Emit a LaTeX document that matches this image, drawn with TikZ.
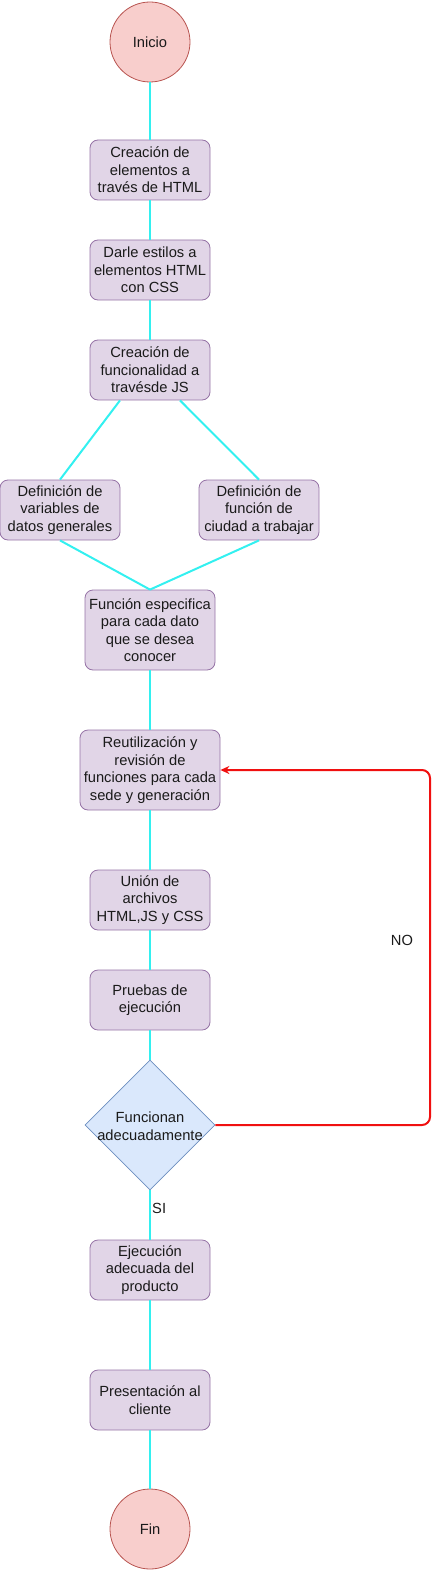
\documentclass[tikz,border=0pt]{standalone}
\usepackage{fontspec}
\setmainfont{Liberation Sans}
\usetikzlibrary{shapes.geometric,arrows.meta,calc}
\definecolor{pfill}{HTML}{E1D5E7}
\definecolor{pdraw}{HTML}{9673A6}
\definecolor{rfill}{HTML}{F8CECC}
\definecolor{rdraw}{HTML}{B85450}
\definecolor{bfill}{HTML}{DAE8FC}
\definecolor{bdraw}{HTML}{6C8EBF}
\definecolor{cyanline}{HTML}{33F0F0}
\definecolor{redline}{HTML}{F01010}
\definecolor{txt}{HTML}{1A1A1A}
\begin{document}
\begin{tikzpicture}[x=1pt,y=-1pt,
  every node/.style={font=\fontsize{14.7}{17.5}\selectfont, text=txt, align=center},
  procbox/.style={rectangle, rounded corners=8pt, draw=pdraw, fill=pfill, line width=0.8pt, inner sep=0pt, minimum width=120pt, minimum height=60pt},
  termcirc/.style={circle, draw=rdraw, fill=rfill, line width=0.8pt, inner sep=0pt, minimum size=80pt},
  decis/.style={diamond, draw=bdraw, fill=bfill, line width=0.8pt, inner sep=0pt, minimum width=130pt, minimum height=130pt},
  link/.style={draw=cyanline, line width=2pt},
  nolink/.style={draw=redline, line width=2pt, rounded corners=8pt, -{Stealth[length=9pt,width=8pt,inset=3pt]}},
  lbl/.style={font=\fontsize{14.7}{17.5}\selectfont, inner sep=0pt}
]
\useasboundingbox (0,0) rectangle (440,1570);

\node[termcirc] (inicio) at (150,42) {Inicio};
\node[procbox] (b1) at (150,170) {Creación de\\elementos a\\través de HTML};
\node[procbox] (b2) at (150,270) {Darle estilos a\\elementos HTML\\con CSS};
\node[procbox] (b3) at (150,370) {Creación de\\funcionalidad a\\travésde JS};
\node[procbox] (b4) at (60,510) {Definición de\\variables de\\datos generales};
\node[procbox] (b5) at (259,510) {Definición de\\función de\\ciudad a trabajar};
\node[procbox, minimum width=130pt, minimum height=80pt] (b6) at (150,630) {Función especifica\\para cada dato\\que se desea\\conocer};
\node[procbox, minimum width=140pt, minimum height=80pt] (b7) at (150,770) {Reutilización y\\revisión de\\funciones para cada\\sede y generación};
\node[procbox] (b8) at (150,900) {Unión de\\archivos\\HTML,JS y CSS};
\node[procbox] (b9) at (150,1000) {Pruebas de\\ejecución};
\node[decis] (dia) at (150,1125) {};
\node[inner sep=0pt] (diatext) at (150,1126) {Funcionan\\adecuadamente};
\node[procbox] (b10) at (150,1270) {Ejecución\\adecuada del\\producto};
\node[procbox] (b11) at (150,1400) {Presentación al\\cliente};
\node[termcirc] (fin) at (150,1529) {Fin};

\draw[link] (inicio.south) -- (b1.north);
\draw[link] (b1.south) -- (b2.north);
\draw[link] (b2.south) -- (b3.north);
\draw[link] ([xshift=-30pt]b3.south) -- (b4.north);
\draw[link] ([xshift=30pt]b3.south) -- (b5.north);
\draw[link] (b4.south) -- (b6.north);
\draw[link] (b5.south) -- (b6.north);
\draw[link] (b6.south) -- (b7.north);
\draw[link] (b7.south) -- (b8.north);
\draw[link] (b8.south) -- (b9.north);
\draw[link] (b9.south) -- (dia.north);
\draw[link] (dia.south) -- (b10.north);
\draw[link] (b10.south) -- (b11.north);
\draw[link] (b11.south) -- (fin.north);

\coordinate (rx) at (430,0);
\draw[nolink] (dia.east) -| (rx |- b7.east) -- (b7.east);

\node[lbl] (nolbl) at (402,940) {NO};
\node[lbl, anchor=west] (silbl) at (152,1208) {SI};
\end{tikzpicture}
\end{document}
